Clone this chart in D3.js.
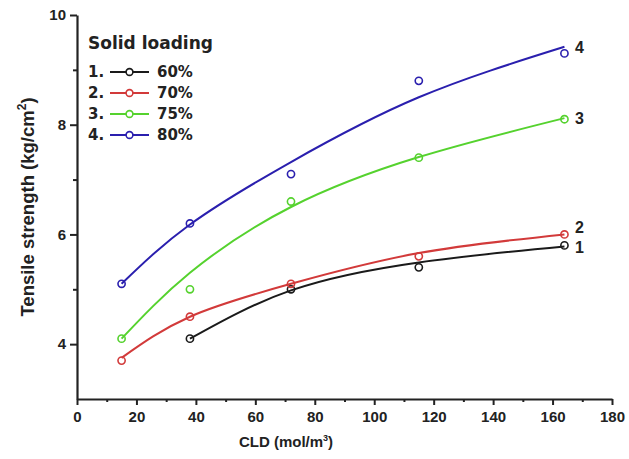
<!DOCTYPE html>
<html>
<head>
<meta charset="utf-8">
<script src="https://cdn.jsdelivr.net/npm/d3@7/dist/d3.min.js"></script>
<style>
  html, body { margin: 0; padding: 0; background: #fff; }
  svg { display: block; }
</style>
</head>
<body>
<svg id="chart" width="629" height="459"></svg>
<script>
// ---- data ----
const cld = [15, 38, 72, 115, 164];
const s60 = [null, 4.1, 5.0, 5.4, 5.8];
const s70 = [3.7, 4.5, 5.1, 5.6, 6.0];
const s75 = [4.1, 5.0, 6.6, 7.4, 8.1];
const s80 = [5.1, 6.2, 7.1, 8.8, 9.3];
// fitted curves as drawn in the picture
const fit60 = [null, 4.1, 4.98, 5.49, 5.78];
const fit70 = [3.75, 4.5, 5.1, 5.66, 6.0];
const fit75 = [4.1, 5.3, 6.5, 7.41, 8.12];
const fit80 = [5.1, 6.18, 7.32, 8.5, 9.42];
const seriesNames = ["60%", "70%", "75%", "80%"];
const seriesNums = ["1.", "2.", "3.", "4."];
const endLabels = ["1", "2", "3", "4"];
const xTicks = [0, 20, 40, 60, 80, 100, 120, 140, 160, 180];
const xMinor = [10, 30, 50, 70, 90, 110, 130, 150, 170];
const yTicks = [4, 6, 8, 10];
const yMinor = [5, 7, 9];

const colors = ["#1a1a1a", "#d23a3a", "#55d22e", "#2a1fae"];
const pointsAll = [s60, s70, s75, s80];
const fitsAll = [fit60, fit70, fit75, fit80];

const svg = d3.select("#chart");
const x = d3.scaleLinear().domain([0, 180]).range([77, 612]);
const y = d3.scaleLinear().domain([3, 10]).range([399, 15]);

const tickFont = "'Liberation Sans', Arial, sans-serif";

// x axis
const gx = svg.append("g").attr("transform", `translate(0,${y(3)})`);
gx.call(d3.axisBottom(x).tickValues(xTicks).tickSize(6).tickSizeOuter(0).tickPadding(6).tickFormat(d3.format("d")));
gx.append("g").call(d3.axisBottom(x).tickValues(xMinor).tickSize(3).tickFormat(""))
  .select(".domain").remove();
// y axis
const gy = svg.append("g").attr("transform", `translate(${x(0)},0)`);
gy.call(d3.axisLeft(y).tickValues(yTicks).tickSize(7).tickSizeOuter(0).tickPadding(4).tickFormat(d3.format("d")));
gy.append("g").call(d3.axisLeft(y).tickValues(yMinor).tickSize(4).tickFormat(""))
  .select(".domain").remove();

svg.selectAll(".domain").attr("stroke", "#222").attr("stroke-width", 2.2);
svg.selectAll(".tick line").attr("stroke", "#222").attr("stroke-width", 2);
svg.selectAll(".tick text")
  .attr("font-family", tickFont).attr("font-weight", "bold")
  .attr("font-size", 15).attr("fill", "#222");

// axis titles
const xt = svg.append("text")
  .attr("x", 286).attr("y", 447)
  .attr("text-anchor", "middle")
  .attr("font-family", tickFont).attr("font-weight", "bold")
  .attr("font-size", 15).attr("fill", "#222");
xt.append("tspan").text("CLD (mol/m");
xt.append("tspan").attr("font-size", 9).attr("dy", -6).text("3");
xt.append("tspan").attr("dy", 6).text(")");

const yt = svg.append("text")
  .attr("transform", "translate(34,207) rotate(-90)")
  .attr("text-anchor", "middle")
  .attr("font-family", tickFont).attr("font-weight", "bold")
  .attr("font-size", 18.5).attr("fill", "#222");
yt.append("tspan").text("Tensile strength (kg/cm");
yt.append("tspan").attr("font-size", 12).attr("dy", -8).text("2");
yt.append("tspan").attr("dy", 8).text(")");

// curves
const line = d3.line()
  .defined(d => d[1] != null)
  .x(d => x(d[0])).y(d => y(d[1]))
  .curve(d3.curveNatural);

fitsAll.forEach((f, i) => {
  const pts = cld.map((c, j) => [c, f[j]]).filter(d => d[1] != null);
  svg.append("path")
    .datum(pts)
    .attr("d", line)
    .attr("fill", "none")
    .attr("stroke", colors[i])
    .attr("stroke-width", 2);
});

// markers
pointsAll.forEach((s, i) => {
  const pts = cld.map((c, j) => [c, s[j]]).filter(d => d[1] != null);
  svg.append("g").selectAll("circle").data(pts).join("circle")
    .attr("cx", d => x(d[0])).attr("cy", d => y(d[1]))
    .attr("r", 3.6)
    .attr("fill", "none")
    .attr("stroke", colors[i])
    .attr("stroke-width", 1.6);
});

// end labels
const endY = [247, 227, 118, 47];
endLabels.forEach((t, i) => {
  svg.append("text")
    .attr("x", 575).attr("y", endY[i])
    .attr("dy", "0.36em")
    .attr("font-family", tickFont).attr("font-weight", "bold")
    .attr("font-size", 16).attr("fill", "#222")
    .text(t);
});

// legend
const legFont = "'DejaVu Sans', sans-serif";
svg.append("text")
  .attr("x", 88).attr("y", 49)
  .attr("font-family", legFont).attr("font-weight", "bold")
  .attr("font-size", 17).attr("fill", "#222")
  .text("Solid loading");
const rowY = [72, 93, 114, 135];
seriesNames.forEach((n, i) => {
  const g = svg.append("g").attr("transform", `translate(0,${rowY[i]})`);
  g.append("text").attr("x", 88).attr("y", 0).attr("dy", "0.36em")
    .attr("font-family", legFont).attr("font-weight", "bold")
    .attr("font-size", 15).attr("fill", "#222").text(seriesNums[i]);
  g.append("line").attr("x1", 110).attr("x2", 149).attr("y1", 0).attr("y2", 0)
    .attr("stroke", colors[i]).attr("stroke-width", 2);
  g.append("circle").attr("cx", 129.5).attr("cy", 0).attr("r", 3.4)
    .attr("fill", "#fff").attr("stroke", colors[i]).attr("stroke-width", 1.6);
  g.append("text").attr("x", 157).attr("y", 0).attr("dy", "0.36em")
    .attr("font-family", legFont).attr("font-weight", "bold")
    .attr("font-size", 15).attr("fill", "#222").text(n);
});
</script>
</body>
</html>
